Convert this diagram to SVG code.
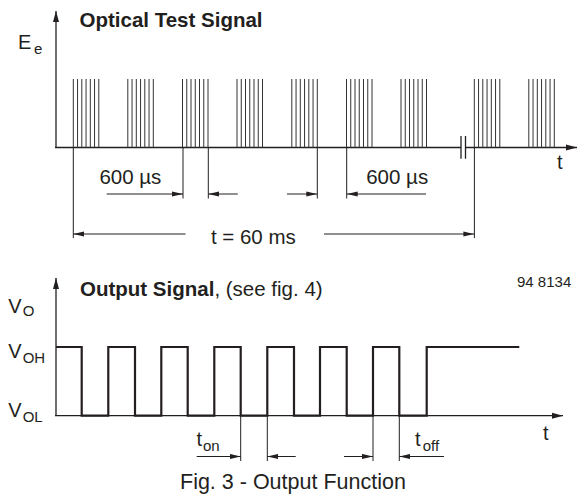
<svg xmlns="http://www.w3.org/2000/svg" xmlns:xlink="http://www.w3.org/1999/xlink" width="577" height="495" viewBox="0 0 577 495">
<style>
.t{font-family:"Liberation Sans",Arial,sans-serif;fill:#231f20;font-size:20px}
.b{font-weight:bold}
.s{font-size:15px}
.ax{stroke:#231f20;stroke-width:1.3;fill:none}
.ln{stroke:#231f20;stroke-width:1;fill:none}
.bl{stroke:#333;stroke-width:1;fill:none}
.wave{stroke:#231f20;stroke-width:2.2;fill:none;stroke-linejoin:miter}
</style>
<defs>
<marker id="ah" markerWidth="11" markerHeight="6" refX="11" refY="3" orient="auto" markerUnits="userSpaceOnUse">
<path d="M0,0.4 L11,3 L0,5.6 Z" fill="#231f20"/>
</marker>
<marker id="axh" markerWidth="11" markerHeight="7" refX="11" refY="3.5" orient="auto" markerUnits="userSpaceOnUse">
<path d="M0,0.5 L11,3.5 L0,6.5 Z" fill="#231f20"/>
</marker>
<g id="burst"><path class="bl" d="M0,79V147.5M4.25,79V147.5M8.5,79V147.5M12.75,79V147.5M17,79V147.5M21.25,79V147.5M25.5,79V147.5"/></g>
</defs>

<g id="top-chart">
<g id="top-axes">
<path class="ax" d="M56,147.5V11" marker-end="url(#axh)"/>
<path class="ax" d="M55,147.5H461"/>
<path class="ax" d="M465.5,147.5H577" marker-end="url(#axh)"/>
<path class="ax" d="M461,136V158.7M465.5,136V158.7"/>
</g>
<g id="bursts">
<use xlink:href="#burst" x="73.3"/>
<use xlink:href="#burst" x="127.8"/>
<use xlink:href="#burst" x="182.5"/>
<use xlink:href="#burst" x="237"/>
<use xlink:href="#burst" x="291.8"/>
<use xlink:href="#burst" x="346.5"/>
<use xlink:href="#burst" x="401"/>
<use xlink:href="#burst" x="474.3"/>
<use xlink:href="#burst" x="528.8"/>
</g>
<g id="top-connectors">
<path class="ln" d="M73.3,147.5V238M183,147.5V198.5M208.3,147.5V198.5M317.3,147.5V198.5M346.7,147.5V198.5M474.4,147.5V238"/>
<path class="ln" d="M106.7,194H183" marker-end="url(#ah)"/>
<path class="ln" d="M237.8,194H208.3" marker-end="url(#ah)"/>
<path class="ln" d="M287,194H317.3" marker-end="url(#ah)"/>
<path class="ln" d="M426,194H346.7" marker-end="url(#ah)"/>
<path class="ln" d="M185.5,234H73.3" marker-end="url(#ah)"/>
<path class="ln" d="M324,234H474.4" marker-end="url(#ah)"/>
</g>
<g id="top-labels">
<text class="t b" x="79.5" y="26.5" style="font-size:20.5px">Optical Test Signal</text>
<text class="t" x="18" y="49">E</text>
<text class="t s" x="34" y="54">e</text>
<text class="t" x="557" y="169">t</text>
<text class="t" x="99.4" y="184" style="font-size:20.5px">600 µs</text>
<text class="t" x="366.2" y="184" style="font-size:20.5px">600 µs</text>
<text class="t" x="210.9" y="244" style="font-size:20.5px">t = 60 ms</text>
</g>
</g>

<g id="bottom-chart">
<g id="bottom-axes">
<path class="ax" d="M56,415.7V278" marker-end="url(#axh)"/>
<path class="ax" d="M55,415.7H563" marker-end="url(#axh)"/>
</g>
<g id="output-wave">
<path class="wave" d="M56,347H81.7V415.7H108.3V347H135V415.7H161.3V347H187.7V415.7H214.3V347H240.7V415.7H267.3V347H294V415.7H320V347H346.7V415.7H373V347H399.3V415.7H426.7V347H519.3"/>
</g>
<g id="bottom-connectors">
<path class="ln" d="M240.7,415.7V461M267.3,415.7V461M373,415.7V461M399.3,415.7V461"/>
<path class="ln" d="M196.7,456.5H240.7" marker-end="url(#ah)"/>
<path class="ln" d="M295.7,456.5H267.3" marker-end="url(#ah)"/>
<path class="ln" d="M344,456.5H373" marker-end="url(#ah)"/>
<path class="ln" d="M444,456.5H399.3" marker-end="url(#ah)"/>
</g>
<g id="bottom-labels">
<text class="t" x="80" y="296" style="font-size:20.5px"><tspan class="b">Output Signal</tspan>, (see fig. 4)</text>
<text class="t" x="517" y="286.7" style="font-size:15px">94 8134</text>
<text class="t" x="8.3" y="313.3">V</text>
<text class="t s" x="22.7" y="316">O</text>
<text class="t" x="8.3" y="358.3">V</text>
<text class="t s" x="22.7" y="362.7">OH</text>
<text class="t" x="8.3" y="416.7">V</text>
<text class="t s" x="22.7" y="421.7">OL</text>
<text class="t" x="196.5" y="445.5">t</text>
<text class="t s" x="203" y="450.5">on</text>
<text class="t" x="415" y="445.5">t</text>
<text class="t s" x="422.7" y="450.5">off</text>
<text class="t" x="543" y="440">t</text>
<text class="t" x="180" y="489.3" style="font-size:21.5px">Fig. 3 - Output Function</text>
</g>
</g>
</svg>
